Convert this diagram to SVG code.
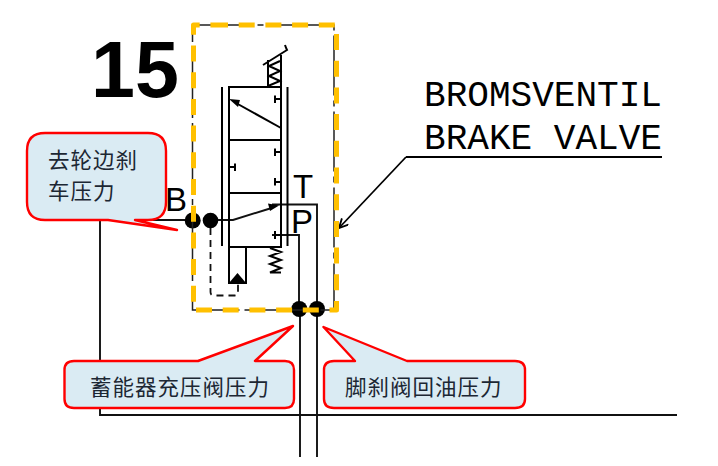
<svg xmlns="http://www.w3.org/2000/svg" width="718" height="466" viewBox="0 0 718 466">
<style>
.ln{fill:none;stroke:#000;stroke-width:2}
.th{fill:none;stroke:#111;stroke-width:1.9}
.dot{fill:#000}
.call{fill:#daebf3;stroke:#ff0000;stroke-width:2.4;stroke-linejoin:round}
.cjk{font-family:"Noto Sans CJK SC",sans-serif;font-size:21.5px;letter-spacing:1px;fill:#1c2733}
.lat{font-family:"Liberation Sans",Arial,sans-serif;font-size:33px;fill:#000}
.mono{font-family:"Liberation Mono","DejaVu Sans Mono",monospace;font-size:36px;fill:#000}
</style>
<defs>
<marker id="open" markerWidth="12" markerHeight="12" refX="10" refY="5" orient="auto" markerUnits="userSpaceOnUse">
<path d="M1,0.5 L10,5 L1,9.5" fill="none" stroke="#000" stroke-width="1.8"/>
</marker>
</defs>
<rect width="718" height="466" fill="#fff"/>
<g id="connectors">
<path class="th" d="M185,220 H100 V415 H677"/>
<path class="th" d="M300,315 V457 M317,315 V457"/>
<path class="th" d="M299,309 V235 H272"/>
<path class="th" d="M317,309 V204.500 H272"/>
<path class="th" d="M218,220 H233 L270,208.500"/>
<path d="M279,205.500 L268,203.500 L270,211 Z" fill="#000"/>
<path d="M210.500,228 V292 Q210.500,295.500 214,295.500 H235 Q238,295.500 238,292 V284" fill="none" stroke="#111" stroke-width="1.800" stroke-dasharray="7 5"/>
<path d="M406,157 H662" fill="none" stroke="#000" stroke-width="2.200"/>
<path d="M406,157 L339,228" fill="none" stroke="#000" stroke-width="1.800" marker-end="url(#open)"/>
</g>
<g id="valve">
<path class="ln" d="M222,87 V246 M287.500,87 V246"/>
<path class="ln" d="M229,87 H281 V247 H229 Z M229,140 H281 M229,193 H281"/>
<path class="ln" d="M229,247 V283 H246 V247"/>
<path d="M229,283 L237.500,273 L246,283 Z" fill="#000"/>
<path class="ln" d="M281,128 L236,103"/>
<path d="M229,99 L240,100 L238,107 Z" fill="#000"/>
<path class="ln" d="M275,95.500 V103 M275,99 H281 M275,148.500 V156 M275,152 H281 M235,163.500 V171 M235,167 H229 M275,178 V185.500 M275,182 H281 M275,231 V239 M275,235 H281"/>
<path class="ln" d="M268,87 V60 M281,87 V55 M268,86 L280,81 L269,76 L280,71 L269,66 L280,61"/>
<path class="ln" d="M263,65 L287,50 Q286,48 285,45"/>
<path class="ln" d="M270,248 L281,252 L270,256 L281,260 L270,264 L281,268 L270,272.500 H281"/>
</g>
<g id="label-15"><text x="91" y="97" font-family="Liberation Sans,Arial,sans-serif" font-weight="700" font-size="79">15</text></g>
<g id="port-B"><circle class="dot" cx="192.700" cy="220.500" r="8"/><circle class="dot" cx="210.500" cy="220.500" r="7.800"/><text class="lat" x="165" y="211">B</text></g>
<g id="port-T"><text class="lat" x="293" y="198">T</text></g>
<g id="port-P"><text class="lat" x="291" y="233">P</text></g>
<g id="port-bottom"><circle class="dot" cx="299.300" cy="309" r="8"/><circle class="dot" cx="317" cy="309" r="8"/></g>
<g id="boundary">
<path d="M192.500,25 H334 V310 H192.500 Z" fill="none" stroke="#222" stroke-width="1.500" stroke-dasharray="60 5 6 5"/>
<path d="M212,25 H336.500 V310 H193.500 V25 H212" fill="none" stroke="#ffc000" stroke-width="5" stroke-dasharray="16 10.700" stroke-linejoin="round"/>
</g>
<g id="label-brake">
<text class="mono" x="424" y="105.500" textLength="238" lengthAdjust="spacingAndGlyphs">BROMSVENTIL</text>
<text class="mono" x="424" y="149" textLength="238" lengthAdjust="spacingAndGlyphs">BRAKE VALVE</text>
</g>
<g id="callout-wheel">
<path class="call" d="M45,133 H148 Q166,133 166,151 V202 Q166,220 148,220 H135 L177,230 L108,220 H45 Q27,220 27,202 V151 Q27,133 45,133 Z"/>
<text class="cjk" x="48" y="167.500">去轮边刹</text>
<text class="cjk" x="48" y="199">车压力</text>
</g>
<g id="callout-accumulator">
<path class="call" d="M74,361 H198 L293,326 L255,361 H285 Q294,361 294,370 V399 Q294,408 285,408 H74 Q64.500,408 64.500,399 V370 Q64.500,361 74,361 Z"/>
<text class="cjk" x="90" y="394.500">蓄能器充压阀压力</text>
</g>
<g id="callout-return">
<path class="call" d="M334,361 H355 L323.500,327 L407,361 H515 Q525,361 525,370 V399 Q525,408 515,408 H334 Q324,408 324,399 V370 Q324,361 334,361 Z"/>
<text class="cjk" x="345" y="394.500">脚刹阀回油压力</text>
</g>
</svg>
